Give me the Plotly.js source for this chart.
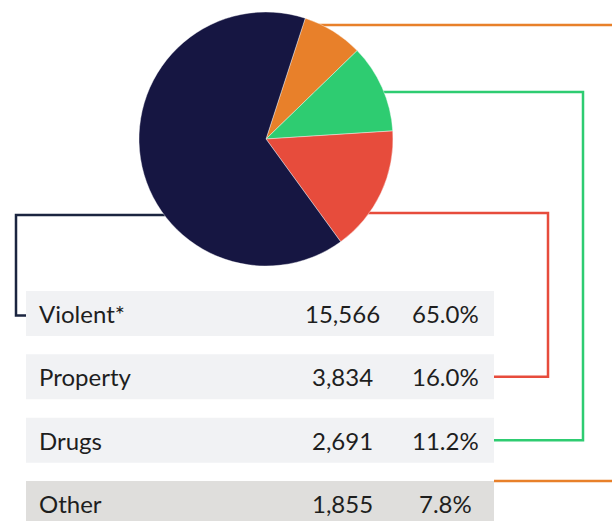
<!DOCTYPE html>
<html>
<head>
<meta charset="utf-8">
<script src="https://cdn.plot.ly/plotly-3.0.1.min.js"></script>
<style>html,body{margin:0;padding:0;background:#fff;}#chart{width:612px;height:521px;}</style>
</head>
<body>
<div id="chart"></div>
<script>
// Data (table order)
var categories = ["Violent*", "Property", "Drugs", "Other"];
var counts = [15566, 3834, 2691, 1855];
var countLabels = ["15,566", "3,834", "2,691", "1,855"];
var percentLabels = ["65.0%", "16.0%", "11.2%", "7.8%"];
var sliceColors = ["#161642", "#E74C3C", "#2ECC71", "#E8802A"];
var lineColors = ["#1B2540", "#E74C3C", "#2ECC71", "#E8802A"];
var rowFill = ["#F1F2F4", "#F1F2F4", "#F1F2F4", "#DFDEDC"];
// pie drawn clockwise starting with Other
var pieOrder = [3, 2, 1, 0];

(function () {
  var W = 612, H = 521;
  function px(x) { return x / W; }
  function py(y) { return 1 - y / H; }

  var cx = 266, cy = 139, r = 127;
  var rowTop0 = 291, rowStep = 63.33, rowH = 45, rowL = 26, rowR = 494;

  var shapes = [];
  var annotations = [];
  var font = {family: "Lato, 'Open Sans', sans-serif", size: 24, color: "#1E1E1E"};
  for (var i = 0; i < categories.length; i++) {
    var rt = rowTop0 + i * rowStep;
    shapes.push({type: "rect", xref: "paper", yref: "paper", layer: "below",
      x0: px(rowL), x1: px(rowR), y0: py(rt + rowH), y1: py(rt),
      fillcolor: rowFill[i], line: {width: 0}});
    var mid = rt + rowH / 2;
    annotations.push({xref: "paper", yref: "paper", x: px(37), y: py(mid), xanchor: "left", yanchor: "middle", text: categories[i], showarrow: false, font: font});
    annotations.push({xref: "paper", yref: "paper", x: px(342.5), y: py(mid), xanchor: "center", yanchor: "middle", text: countLabels[i], showarrow: false, font: font});
    annotations.push({xref: "paper", yref: "paper", x: px(445.5), y: py(mid), xanchor: "center", yanchor: "middle", text: percentLabels[i], showarrow: false, font: font});
  }

  function pathOf(pts) {
    return pts.map(function (p, k) { return (k ? "L" : "M") + px(p[0]) + "," + py(p[1]); }).join(" ");
  }
  var lw = 2.5;
  function rowMid(i) { return rowTop0 + i * rowStep + rowH / 2; }
  shapes.push({type: "path", xref: "paper", yref: "paper", layer: "below",
    path: pathOf([[cx, 215], [16, 215], [16, rowMid(0) + 2], [rowL, rowMid(0) + 2]]),
    line: {color: lineColors[0], width: lw}});
  shapes.push({type: "path", xref: "paper", yref: "paper", layer: "below",
    path: pathOf([[cx, 213], [548, 213], [548, rowMid(1)], [rowR, rowMid(1)]]),
    line: {color: lineColors[1], width: lw}});
  shapes.push({type: "path", xref: "paper", yref: "paper", layer: "below",
    path: pathOf([[cx, 92], [583, 92], [583, rowMid(2)], [rowR, rowMid(2)]]),
    line: {color: lineColors[2], width: lw}});
  shapes.push({type: "path", xref: "paper", yref: "paper", layer: "below",
    path: pathOf([[cx, 25], [625, 25], [625, rowTop0 + 3 * rowStep], [rowR, rowTop0 + 3 * rowStep]]),
    line: {color: lineColors[3], width: lw}});

  var trace = {
    type: "pie",
    labels: pieOrder.map(function (k) { return categories[k]; }),
    values: pieOrder.map(function (k) { return counts[k]; }),
    marker: {colors: pieOrder.map(function (k) { return sliceColors[k]; }), line: {color: "#ffffff", width: 0.4}},
    sort: false,
    direction: "clockwise",
    rotation: 18,
    textinfo: "none",
    hoverinfo: "label+value+percent",
    showlegend: false,
    domain: {x: [px(cx - r), px(cx + r)], y: [py(cy + r), py(cy - r)]}
  };

  var layout = {
    width: W, height: H,
    margin: {l: 0, r: 0, t: 0, b: 0},
    paper_bgcolor: "#ffffff",
    showlegend: false,
    shapes: shapes,
    annotations: annotations
  };

  Plotly.newPlot("chart", [trace], layout, {displayModeBar: false, staticPlot: true});
})();
</script>
</body>
</html>
